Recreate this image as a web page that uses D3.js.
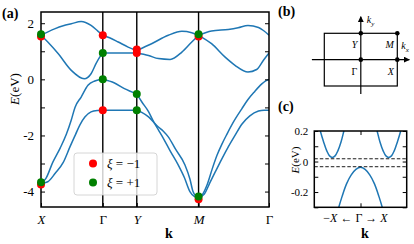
<!DOCTYPE html>
<html>
<head>
<meta charset="utf-8">
<script src="https://cdn.jsdelivr.net/npm/d3@7"></script>
<style>
  body { margin: 0; background: #fff; }
  text { font-family: "Liberation Serif", "DejaVu Serif", serif; fill: #000; }
</style>
</head>
<body>
<svg id="fig" width="414" height="244"></svg>
<script>
// ---- data ----
// panel (a): k along X-Γ-Y-M-Γ path, E in eV
const kTicks = [0, 1, 1.55, 2.55, 3.69]
const kLabels = ['X', 'Γ', 'Y', 'M', 'Γ']

const band1 = [
  [0, 1.57], [0.22, 1.80], [0.36, 1.91], [0.49, 1.98], [0.65, 2.06], [0.81, 1.92], [0.92, 1.72], [1, 1.57],
  [1.11, 1.48], [1.25, 1.33], [1.41, 1.15], [1.55, 1.03],
  [1.79, 1.27], [2.06, 1.57], [2.28, 1.71], [2.44, 1.66], [2.55, 1.57],
  [2.76, 1.72], [3.03, 1.78], [3.19, 1.84], [3.35, 1.92], [3.52, 1.85], [3.60, 1.74], [3.69, 1.57]
]
const band2 = [
  [0, 1.57], [0.11, 1.33], [0.28, 0.91], [0.49, 0.32], [0.70, 0.02], [0.81, 0.20], [0.89, 0.56], [0.95, 0.79], [1, 0.94],
  [1.28, 0.94], [1.55, 0.94],
  [1.74, 0.85], [1.90, 0.74], [2.09, 0.71], [2.28, 0.97], [2.44, 1.33], [2.55, 1.57],
  [2.76, 1.27], [2.98, 0.79], [3.14, 0.50], [3.35, 0.26], [3.49, 0.35], [3.60, 0.68], [3.69, 0.94]
]
const band3 = [
  [0, -3.71], [0.08, -3.53], [0.19, -2.96], [0.31, -2.45], [0.41, -1.96], [0.49, -1.45], [0.55, -1.00],
  [0.65, -0.63], [0.76, -0.21], [0.87, -0.06], [1, 0],
  [1.19, -0.13], [1.35, -0.33], [1.55, -0.52],
  [1.63, -0.80], [1.74, -1.15], [1.82, -1.50], [1.90, -1.80], [1.98, -2.10], [2.09, -2.55], [2.22, -3.05],
  [2.32, -3.50], [2.41, -4.00], [2.48, -4.17], [2.55, -4.22],
  [2.62, -4.08], [2.69, -3.75], [2.77, -3.20], [2.85, -2.70], [2.93, -2.30], [3.01, -1.95], [3.12, -1.50],
  [3.25, -1.05], [3.35, -0.72], [3.46, -0.43], [3.57, -0.17], [3.63, -0.06], [3.69, 0]
]
const band4 = [
  [0, -3.71], [0.11, -3.65], [0.23, -3.35], [0.36, -2.96], [0.47, -2.40], [0.56, -1.96], [0.63, -1.62],
  [0.71, -1.34], [0.81, -1.16], [0.91, -1.11], [1, -1.10],
  [1.28, -1.10], [1.55, -1.10],
  [1.63, -1.18], [1.74, -1.34], [1.82, -1.52], [1.90, -1.70], [1.98, -1.85], [2.06, -2.05], [2.18, -2.50],
  [2.33, -3.05], [2.41, -3.55], [2.46, -4.00], [2.51, -4.17], [2.55, -4.22],
  [2.64, -4.10], [2.73, -3.70], [2.82, -3.30], [2.90, -2.95], [3.02, -2.45], [3.14, -2.00], [3.25, -1.60],
  [3.38, -1.30], [3.52, -1.13], [3.61, -1.10], [3.69, -1.10]
]
const bands = [band1, band2, band3, band4]

// parity eigenvalues at high-symmetry points
const redDots = [[0, 1.53], [0, -3.75], [1, 1.57], [1, -1.10], [1.55, 1.06], [1.55, 0.94], [2.55, 1.53], [2.55, -4.27]]
const greenDots = [[0, 1.61], [0, -3.67], [1, 0.94], [1, 0], [1.55, -0.52], [1.55, -1.10], [2.55, 1.61], [2.55, -4.18]]

// panel (c): zoom near Γ
const condLeft = [
  [-0.90, 0.235], [-0.87, 0.20], [-0.80, 0.13], [-0.73, 0.07], [-0.67, 0.037], [-0.61, 0.027],
  [-0.55, 0.037], [-0.49, 0.07], [-0.42, 0.13], [-0.36, 0.20], [-0.33, 0.235]
]
const condRight = [
  [0.33, 0.235], [0.36, 0.20], [0.42, 0.13], [0.49, 0.07], [0.55, 0.037], [0.61, 0.027],
  [0.67, 0.037], [0.73, 0.07], [0.80, 0.13], [0.87, 0.20], [0.90, 0.235]
]
const valence = [
  [-0.52, -0.36], [-0.47, -0.30], [-0.40, -0.23], [-0.30, -0.145], [-0.20, -0.088], [-0.10, -0.052], [0, -0.038],
  [0.10, -0.052], [0.20, -0.088], [0.30, -0.145], [0.40, -0.23], [0.47, -0.30], [0.52, -0.36]
]
const gapLines = [0.018, -0.034]

// panel (b): Brillouin zone points
const bzPoints = [
  { name: 'Γ', kx: 0, ky: 0 }, { name: 'X', kx: 1, ky: 0 },
  { name: 'Y', kx: 0, ky: 1 }, { name: 'M', kx: 1, ky: 1 }
]

const blue = '#1f77b4'
const svg = d3.select('#fig')
svg.append('rect').attr('width', 414).attr('height', 244).attr('fill', '#fff')

// ================= panel (a) =================
const xa = d3.scaleLinear().domain([0, 3.69]).range([41, 269])
const ya = d3.scaleLinear().domain([-4.55, 2.4]).range([207, 12])

svg.append('clipPath').attr('id', 'clipA')
  .append('rect').attr('x', 41).attr('y', 12).attr('width', 228).attr('height', 195)

const ga = svg.append('g')

// vertical lines at Γ, Y, M
ga.selectAll('.vline')
  .data(kTicks.slice(1, 4))
  .enter().append('line')
  .attr('x1', d => xa(d)).attr('x2', d => xa(d))
  .attr('y1', ya.range()[0]).attr('y2', ya.range()[1])
  .attr('stroke', '#000').attr('stroke-width', 1.4)

const line = d3.line()
  .x(d => xa(d[0]))
  .y(d => ya(d[1]))
  .curve(d3.curveMonotoneX)

// split each band at the high-symmetry points so kinks stay sharp
const segments = []
bands.forEach(b => {
  for (let i = 0; i < kTicks.length - 1; i++) {
    const seg = b.filter(p => p[0] >= kTicks[i] - 1e-9 && p[0] <= kTicks[i + 1] + 1e-9)
    if (seg.length > 1) segments.push(seg)
  }
})
ga.append('g').attr('clip-path', 'url(#clipA)')
  .selectAll('path')
  .data(segments)
  .enter().append('path')
  .attr('d', line)
  .attr('fill', 'none')
  .attr('stroke', blue)
  .attr('stroke-width', 1.5)

// axes
const yAxisL = d3.axisLeft(ya).tickValues([-4, -3, -2, -1, 0, 1, 2]).tickSize(-4).tickPadding(7)
  .tickFormat(d => d % 2 === 0 ? String(d) : '')
const yAxisR = d3.axisRight(ya).tickValues([-4, -3, -2, -1, 0, 1, 2]).tickSize(-4).tickFormat('')
const xAxisB = d3.axisBottom(xa).tickValues(kTicks).tickSize(-4).tickPadding(8)
  .tickFormat((d, i) => kLabels[i])

const axL = ga.append('g').attr('transform', 'translate(41,0)').call(yAxisL)
ga.append('g').attr('transform', 'translate(269,0)').call(yAxisR)
const axB = ga.append('g').attr('transform', 'translate(0,207)').call(xAxisB)
;[axL, axB].forEach(a => a.selectAll('text').style('font-size', '13px').style('font-family', null))
axB.selectAll('text').style('font-style', (d, i) => kLabels[i] === 'Γ' ? 'normal' : 'italic')
ga.selectAll('.domain').remove()
ga.selectAll('.tick line').attr('stroke', '#000').attr('stroke-width', 1)

ga.append('rect')
  .attr('x', 41).attr('y', 12).attr('width', 228).attr('height', 195)
  .attr('fill', 'none').attr('stroke', '#000').attr('stroke-width', 1.5)

// dots
ga.selectAll('.rdot').data(redDots).enter().append('circle')
  .attr('cx', d => xa(d[0])).attr('cy', d => ya(d[1])).attr('r', 4).attr('fill', 'red')
ga.selectAll('.gdot').data(greenDots).enter().append('circle')
  .attr('cx', d => xa(d[0])).attr('cy', d => ya(d[1])).attr('r', 4).attr('fill', 'green')

// legend
const leg = ga.append('g').attr('transform', 'translate(74,153)')
leg.append('rect').attr('width', 83).attr('height', 42).attr('rx', 3)
  .attr('fill', '#fff').attr('fill-opacity', 0.8).attr('stroke', '#ccc').attr('stroke-width', 0.8)
const legItems = [{ c: 'red', s: '−1' }, { c: 'green', s: '+1' }]
legItems.forEach((it, i) => {
  const yy = 10.5 + i * 19
  leg.append('circle').attr('cx', 19).attr('cy', yy).attr('r', 4).attr('fill', it.c)
  const t = leg.append('text').attr('x', 33).attr('y', yy + 4.5).style('font-size', '13px')
  t.append('tspan').style('font-style', 'italic').text('ξ')
  t.append('tspan').text(' = ' + it.s)
})

// labels
const ylabA = svg.append('text').attr('transform', 'translate(19,89) rotate(-90)')
  .attr('text-anchor', 'middle').style('font-size', '13px')
ylabA.append('tspan').style('font-style', 'italic').text('E')
ylabA.append('tspan').text('(eV)')
svg.append('text').attr('x', 169).attr('y', 238).attr('text-anchor', 'middle')
  .style('font-size', '14px').style('font-weight', 'bold').text('k')
svg.append('text').attr('x', 2).attr('y', 18).style('font-size', '14px').style('font-weight', 'bold').text('(a)')

// ================= panel (b) =================
const bx = d3.scaleLinear().domain([-1, 1]).range([324.3, 397.3])
const by = d3.scaleLinear().domain([-1, 1]).range([86, 33.3])
const gb = svg.append('g')

const defs = svg.append('defs')
defs.append('marker').attr('id', 'arrow')
  .attr('viewBox', '0 0 10 10').attr('refX', 9).attr('refY', 5)
  .attr('markerWidth', 6).attr('markerHeight', 6).attr('markerUnits', 'userSpaceOnUse')
  .attr('orient', 'auto')
  .append('path').attr('d', 'M0,0L10,5L0,10z').attr('fill', '#000')

gb.append('rect')
  .attr('x', bx(-1)).attr('y', by(1)).attr('width', bx(1) - bx(-1)).attr('height', by(-1) - by(1))
  .attr('fill', 'none').attr('stroke', '#000').attr('stroke-width', 1.2)
gb.append('line').attr('x1', bx(-1.34)).attr('x2', bx(1.33)).attr('y1', by(0)).attr('y2', by(0))
  .attr('stroke', '#000').attr('stroke-width', 1.2).attr('marker-end', 'url(#arrow)')
gb.append('line').attr('x1', bx(0)).attr('x2', bx(0)).attr('y1', by(-1.3)).attr('y2', by(1.63))
  .attr('stroke', '#000').attr('stroke-width', 1.2).attr('marker-end', 'url(#arrow)')
gb.selectAll('.bzdot').data(bzPoints).enter().append('circle')
  .attr('cx', d => bx(d.kx)).attr('cy', d => by(d.ky)).attr('r', 2.3).attr('fill', '#000')
gb.selectAll('.bzlab').data(bzPoints).enter().append('text')
  .attr('x', d => bx(d.kx) - 3.5).attr('y', d => by(d.ky) + 15)
  .attr('text-anchor', 'end').style('font-size', '10px')
  .style('font-style', d => d.name === 'Γ' ? 'normal' : 'italic')
  .text(d => d.name)

const kyLab = gb.append('text').attr('x', bx(0) + 6).attr('y', by(1.63) + 6).style('font-size', '10px')
kyLab.append('tspan').style('font-style', 'italic').text('k')
kyLab.append('tspan').attr('dy', 3).style('font-size', '7px').style('font-style', 'italic').text('y')
const kxLab = gb.append('text').attr('x', bx(1) + 4).attr('y', by(0) - 11).style('font-size', '10px')
kxLab.append('tspan').style('font-style', 'italic').text('k')
kxLab.append('tspan').attr('dy', 3).style('font-size', '7px').style('font-style', 'italic').text('x')

svg.append('text').attr('x', 278).attr('y', 16).style('font-size', '14px').style('font-weight', 'bold').text('(b)')

// ================= panel (c) =================
const xc = d3.scaleLinear().domain([-1, 1]).range([314.3, 406.7])
const yc = d3.scaleLinear().domain([-0.3, 0.2]).range([207.3, 131])
const gc = svg.append('g')

svg.append('clipPath').attr('id', 'clipC')
  .append('rect').attr('x', 314.3).attr('y', 131).attr('width', 92.4).attr('height', 76.3)

const lineC = d3.line().x(d => xc(d[0])).y(d => yc(d[1])).curve(d3.curveCatmullRom)
gc.append('g').attr('clip-path', 'url(#clipC)')
  .selectAll('path').data([condLeft, condRight, valence]).enter().append('path')
  .attr('d', lineC).attr('fill', 'none').attr('stroke', blue).attr('stroke-width', 1.5)

gc.selectAll('.gap').data(gapLines).enter().append('line')
  .attr('x1', 314.3).attr('x2', 406.7).attr('y1', d => yc(d)).attr('y2', d => yc(d))
  .attr('stroke', '#000').attr('stroke-width', 0.9).attr('stroke-dasharray', '3.5,2')

const cTicks = [-0.3, -0.2, -0.1, 0, 0.1, 0.2]
const cyL = gc.append('g').attr('transform', 'translate(314.3,0)')
  .call(d3.axisLeft(yc).tickValues(cTicks).tickSize(-4).tickPadding(6)
    .tickFormat(d => (Math.abs(d) > 0.15 && Math.abs(d) < 0.25) || d === 0 ? String(d) : ''))
cyL.selectAll('text').style('font-size', '11px').style('font-family', null)
gc.append('g').attr('transform', 'translate(406.7,0)')
  .call(d3.axisRight(yc).tickValues(cTicks).tickSize(-4).tickFormat(''))
gc.append('g').attr('transform', 'translate(0,207.3)')
  .call(d3.axisBottom(xc).tickValues([0]).tickSize(-4).tickFormat(''))
gc.append('g').attr('transform', 'translate(0,131)')
  .call(d3.axisTop(xc).tickValues([0]).tickSize(-4).tickFormat(''))
gc.selectAll('.domain').remove()
gc.selectAll('.tick line').attr('stroke', '#000').attr('stroke-width', 1)
gc.append('rect').attr('x', 314.3).attr('y', 131).attr('width', 92.4).attr('height', 76.3)
  .attr('fill', 'none').attr('stroke', '#000').attr('stroke-width', 1.5)

const xlabC = svg.append('text').attr('x', xc(0) - 5).attr('y', 222).attr('text-anchor', 'middle')
  .style('font-size', '12px')
xlabC.append('tspan').text('−')
xlabC.append('tspan').style('font-style', 'italic').text('X')
xlabC.append('tspan').text(' ← Γ → ')
xlabC.append('tspan').style('font-style', 'italic').text('X')

svg.append('text').attr('x', 365).attr('y', 238).attr('text-anchor', 'middle')
  .style('font-size', '14px').style('font-weight', 'bold').text('k')
const ylabC = svg.append('text').attr('transform', 'translate(299,160) rotate(-90)')
  .attr('text-anchor', 'middle').style('font-size', '11px')
ylabC.append('tspan').style('font-style', 'italic').text('E')
ylabC.append('tspan').text('(eV)')
svg.append('text').attr('x', 278).attr('y', 111).style('font-size', '14px').style('font-weight', 'bold').text('(c)')
</script>
</body>
</html>
